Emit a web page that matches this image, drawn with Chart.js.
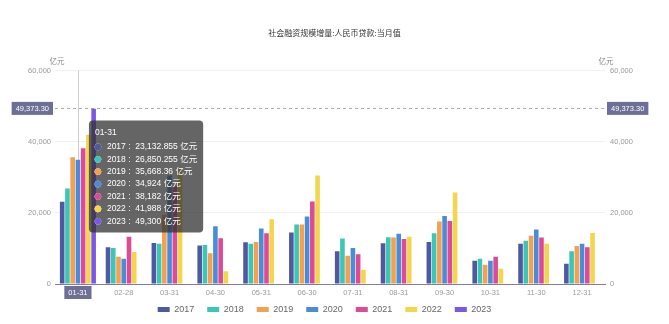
<!DOCTYPE html>
<html>
<head>
<meta charset="utf-8">
<script src="https://cdn.jsdelivr.net/npm/chart.js@4.4.0/dist/chart.umd.min.js"></script>
<style>
  html, body { margin: 0; padding: 0; background: #fff; }
  #wrap { width: 669px; height: 324px; }
</style>
</head>
<body>
<div id="wrap"><canvas id="chart" width="669" height="324"></canvas></div>
<script>
const categories = ['01-31', '02-28', '03-31', '04-30', '05-31', '06-30', '07-31', '08-31', '09-30', '10-31', '11-30', '12-31'];
const seriesNames = ['2017', '2018', '2019', '2020', '2021', '2022', '2023'];
const s2017 = [23132.855, 10300, 11540, 10790, 11730, 14450, 9190, 11440, 11820, 6570, 11350, 5720];
const s2018 = [26850.255, 10130, 11350, 10970, 11350, 16700, 12760, 13130, 14260, 7130, 12190, 9190];
const s2019 = [35668.36, 7690, 19500, 8630, 11820, 16700, 7970, 13040, 17540, 5440, 13600, 10690];
const s2020 = [34924, 7130, 30480, 16230, 15570, 18950, 10130, 14160, 19140, 6570, 15290, 11350];
const s2021 = [38182, 13320, 27480, 12850, 14260, 23170, 8350, 12660, 17730, 7690, 13040, 10320];
const s2022 = [41988, 9000, 32640, 3560, 18200, 30490, 4030, 13320, 25700, 4310, 11350, 14350];
const s2023 = [49300, null, null, null, null, null, null, null, null, null, null, null];
const yTicks = [0, 20000, 40000, 60000];
const pointerValue = 49373.30;
const activeIndex = 0;

const colors = ['#4f59a0', '#3dc6b5', '#f4a052', '#4a8dd6', '#dc4b94', '#f4d64e', '#7a58e6'];
const allSeries = [s2017, s2018, s2019, s2020, s2021, s2022, s2023];

const fmt = v => v.toLocaleString('en-US', { maximumFractionDigits: 3 });
const FONT = '"Liberation Sans", "Noto Sans CJK SC", sans-serif';

Chart.Tooltip.positioners.pinned = function (items) {
  if (!items.length) return false;
  const chart = this.chart;
  const cx = chart.scales.x.getPixelForValue(items[0].index);
  return { x: cx + 15, y: chart.chartArea.top + 50 };
};

const overlay = {
  id: 'overlay',
  afterLayout(chart) {
    // legend overlaps the x label band a bit and sits left of centre in the original
    chart.legend.left -= 10;
    chart.legend.right -= 10;
    chart.legend.top -= 8;
    chart.legend.bottom -= 8;
  },
  beforeDatasetsDraw(chart) {
    const { ctx, chartArea: a, scales } = chart;
    const cx = scales.x.getPixelForValue(activeIndex);
    const py = scales.y.getPixelForValue(pointerValue);
    ctx.save();
    ctx.strokeStyle = '#cccccc';
    ctx.lineWidth = 1;
    ctx.beginPath();
    ctx.moveTo(Math.round(cx) + 0.5, a.top);
    ctx.lineTo(Math.round(cx) + 0.5, a.bottom);
    ctx.stroke();
    ctx.strokeStyle = '#aaaaaa';
    ctx.setLineDash([3, 3]);
    ctx.beginPath();
    ctx.moveTo(a.left, Math.round(py) + 0.5);
    ctx.lineTo(a.right, Math.round(py) + 0.5);
    ctx.stroke();
    ctx.restore();
  },
  afterDatasetsDraw(chart) {
    const { ctx, chartArea: a, scales } = chart;
    const cx = scales.x.getPixelForValue(activeIndex);
    const py = scales.y.getPixelForValue(pointerValue);
    const box = (text, x, y, align) => {
      ctx.font = '7.5px ' + FONT;
      const w = ctx.measureText(text).width + 8;
      const h = 13;
      let left = align === 'right' ? x - w : align === 'center' ? x - w / 2 : x;
      ctx.fillStyle = '#6e6f96';
      ctx.fillRect(left, y - h / 2, w, h);
      ctx.fillStyle = '#ffffff';
      ctx.textAlign = 'center';
      ctx.textBaseline = 'middle';
      ctx.fillText(text, left + w / 2, y + 0.5);
    };
    ctx.save();
    box(pointerValue.toLocaleString('en-US', { minimumFractionDigits: 2 }), a.left - 2, py, 'right');
    box(pointerValue.toLocaleString('en-US', { minimumFractionDigits: 2 }), a.right + 2, py, 'left');
    box(categories[activeIndex], cx, a.bottom + 8.5, 'center');
    ctx.fillStyle = '#888';
    ctx.font = '7.5px ' + FONT;
    ctx.textAlign = 'center';
    ctx.textBaseline = 'middle';
    ctx.fillText('亿元', a.left + 2, a.top - 9);
    ctx.fillText('亿元', a.right + 1, a.top - 9);
    ctx.restore();
  }
};

const chart = new Chart(document.getElementById('chart'), {
  type: 'bar',
  data: {
    labels: categories,
    datasets: allSeries.map((data, i) => ({
      label: seriesNames[i],
      data: data,
      backgroundColor: colors[i],
      borderWidth: 0,
      categoryPercentage: 0.8,
      barPercentage: 0.88,
      yAxisID: 'y'
    }))
  },
  options: {
    responsive: false,
    animation: false,
    events: [],
    layout: { padding: { left: 0, right: 0, top: 0, bottom: -8 } },
    scales: {
      x: {
        afterFit: axis => { axis.height = 16; },
        grid: { display: false, drawTicks: false },
        border: { display: true, color: '#7e7da8', width: 1 },
        ticks: { color: '#999', font: { family: FONT, size: 7.5 }, padding: 4, maxRotation: 0, autoSkip: false }
      },
      y: {
        position: 'left',
        min: 0, max: 60000,
        afterBuildTicks: axis => { axis.ticks = yTicks.map(v => ({ value: v })); },
        afterFit: axis => { axis.width = 55; },
        grid: { color: '#eef0f6', drawTicks: false },
        border: { display: false },
        ticks: { color: '#999', font: { family: FONT, size: 7.5 }, padding: 4, callback: v => fmt(v) }
      },
      y2: {
        position: 'right',
        min: 0, max: 60000,
        afterBuildTicks: axis => { axis.ticks = yTicks.map(v => ({ value: v })); },
        afterFit: axis => { axis.width = 64; },
        grid: { display: false, drawTicks: false },
        border: { display: false },
        ticks: { color: '#999', font: { family: FONT, size: 7.5 }, padding: 5, callback: v => fmt(v) }
      }
    },
    plugins: {
      title: {
        display: true,
        text: '社会融资规模增量:人民币贷款:当月值',
        color: '#333',
        font: { family: '"Noto Sans CJK SC", sans-serif', size: 8, weight: 'normal' },
        padding: { top: 28, bottom: 33 }
      },
      legend: {
        position: 'bottom',
        labels: {
          color: '#666',
          font: { family: FONT, size: 9 },
          boxWidth: 12,
          boxHeight: 5,
          padding: 13
        }
      },
      tooltip: {
        mode: 'index',
        intersect: false,
        position: 'pinned',
        xAlign: 'left',
        yAlign: 'top',
        caretSize: 0,
        caretPadding: 0,
        backgroundColor: 'rgba(50,50,50,0.75)',
        cornerRadius: 4,
        padding: { left: 6, right: 6, top: 7, bottom: 6 },
        titleColor: '#fff',
        titleFont: { family: FONT, size: 8.5, weight: 'normal' },
        titleMarginBottom: 4,
        bodyColor: '#fff',
        bodyFont: { family: FONT, size: 8.5 },
        bodySpacing: 2.2,
        usePointStyle: true,
        boxWidth: 6,
        boxHeight: 6,
        boxPadding: 4,
        filter: item => item.raw !== null,
        callbacks: {
          label: item => item.dataset.label + ' :  ' + fmt(item.raw) + ' 亿元',
          labelColor: item => ({ borderColor: colors[item.datasetIndex], backgroundColor: colors[item.datasetIndex] }),
          labelPointStyle: () => ({ pointStyle: 'circle', rotation: 0 })
        }
      }
    }
  },
  plugins: [overlay]
});

chart.tooltip.setActiveElements(allSeries.map((d, i) => ({ datasetIndex: i, index: activeIndex })), { x: 0, y: 0 });
chart.update();
</script>
</body>
</html>
